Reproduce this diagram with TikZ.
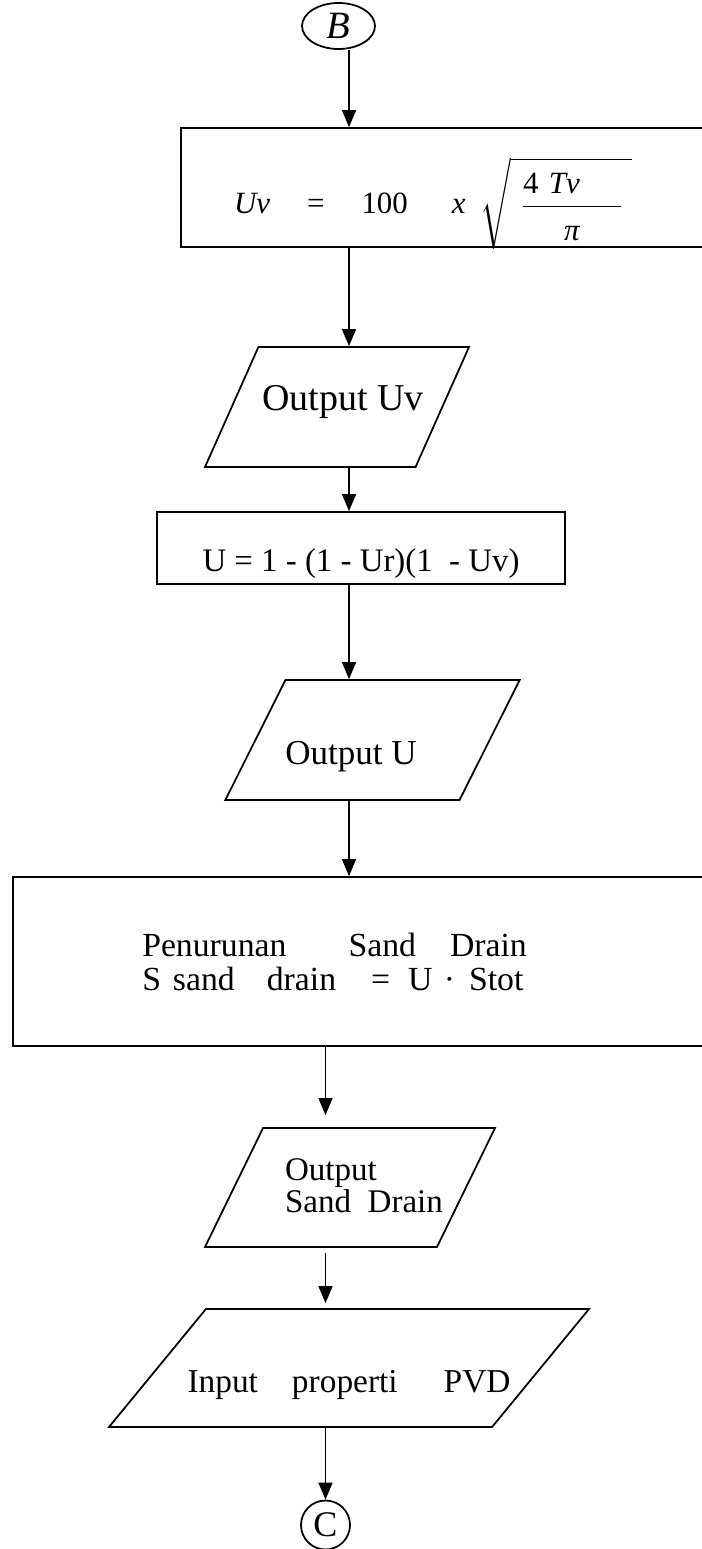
\documentclass[tikz,border=0pt]{standalone}
\usepackage{exscale}
\usepackage{fontspec}
\setmainfont{Liberation Serif}
\usetikzlibrary{shapes.geometric,arrows.meta}

\begin{document}
\begin{tikzpicture}[
    font=\fontsize{19}{19.4}\selectfont,
    box/.style={draw, rectangle, line width=1pt, inner sep=0pt},
    io/.style={draw, trapezium, trapezium stretches body, line width=1pt, inner sep=0pt},
    conn/.style={draw, line width=1pt, inner sep=0pt},
    arr/.style={-{Triangle[length=3.4mm,width=2.8mm]}, line width=0.8pt}
]
        % Page frame
        \path[use as bounding box, clip] (0,0) rectangle (14.04,-30.98);

        % Arrow columns
        \coordinate (colA) at (6.98,0);
        \coordinate (colB) at (6.51,0);

        % Draw connector B
        \node[conn, ellipse, minimum width=1.46cm, minimum height=0.92cm, font=\fontsize{22}{22}\selectfont\itshape] (B) at (6.77,-0.52) {B};

        % Draw Uv formula
        \node[box, minimum width=10.78cm, minimum height=2.38cm, text width=8.66cm, inner xsep=1.06cm, align=left, text height=1.06cm, text depth=0cm, font=\fontsize{17.6}{18}\selectfont] (uv) at (9.01,-3.75)
            {\textit{Uv}\hspace{0.74cm}=\hspace{0.74cm}100\hspace{0.88cm}\textit{x}\hspace{0.3cm}$\displaystyle\sqrt{\hspace{0.2cm}\frac{\makebox[1.96cm][l]{4 \textit{Tv}}}{\rule{0pt}{0.6cm}\makebox[1.96cm][c]{\textit{π}}}\hspace{0.18cm}}$};
        \draw[arr] (B.south -| colA) -- (uv.north -| colA);

        % Output Uv
        \node[io, trapezium left angle=66, trapezium right angle=114, minimum width=5.28cm, inner xsep=-0.4cm, text height=1.26cm, text depth=1.14cm, font=\fontsize{21.6}{22}\selectfont] (outuv) at (6.74,-8.14) {\hspace*{0.24cm}Output Uv};
        \draw[arr] (uv.south -| colA) -- (outuv.north -| colA);

        % U formula
        \node[box, minimum width=8.16cm, minimum height=1.44cm, text height=0.92cm, text depth=0cm, font=\fontsize{18.7}{19}\selectfont] (u) at (7.22,-10.96) {U = 1 - (1 - Ur)(1\ \ - Uv)};
        \draw[arr] (outuv.south -| colA) -- (u.north -| colA);

        % Output U
        \node[io, trapezium left angle=63.4, trapezium right angle=116.6, minimum width=5.82cm, text height=1.68cm, text depth=0.72cm, font=\fontsize{19.9}{20}\selectfont] (outu) at (7.45,-14.8) {Output U\hspace*{0.86cm}};
        \draw[arr] (u.south -| colA) -- (outu.north -| colA);

        % Settlement of sand drain
        \node[box, minimum width=14.15cm, minimum height=3.38cm, text width=8.97cm, inner xsep=2.59cm, align=left, font=\fontsize{19.2}{19.4}\selectfont] (settle) at (7.33,-19.23)
            {Penurunan\hspace{1.24cm}Sand\hspace{0.68cm}Drain\\
             S\hspace{0.24cm}sand\hspace{0.64cm}drain\hspace{0.7cm}=\hspace{0.36cm}U ·\hspace{0.28cm}Stot};
        \draw[arr] (outu.south -| colA) -- (settle.north -| colA);

        % Output sand drain
        \node[io, trapezium left angle=64, trapezium right angle=116, minimum width=5.8cm, inner xsep=-0.6cm, text height=1.68cm, text depth=0.7cm, align=left, font=\fontsize{18.8}{18.2}\selectfont] (outsd) at (7.0,-23.75)
            {\hspace*{0.56cm}Output\\\hspace*{0.56cm}Sand\hspace{0.5em}Drain};
        \draw[arr, shorten >=0.24cm] (settle.south -| colB) -- (outsd.north -| colB);

        % Input PVD
        \node[io, trapezium left angle=50.6, trapezium right angle=129.4, minimum width=9.6cm, inner xsep=-1cm, text height=1.66cm, text depth=0.7cm] (pvd) at (6.98,-27.36) {Input\hspace{0.68cm}properti\hspace{0.92cm}PVD};
        \draw[arr, shorten <=0.1cm, shorten >=0.1cm] (outsd.south -| colB) -- (pvd.north -| colB);

        % Draw connector C
        \node[conn, circle, minimum size=0.98cm, font=\fontsize{20.5}{21}\selectfont] (C) at (6.51,-30.5) {C};
        \draw[arr] (pvd.south -| C.north) -- (C.north);
\end{tikzpicture}
\end{document}
